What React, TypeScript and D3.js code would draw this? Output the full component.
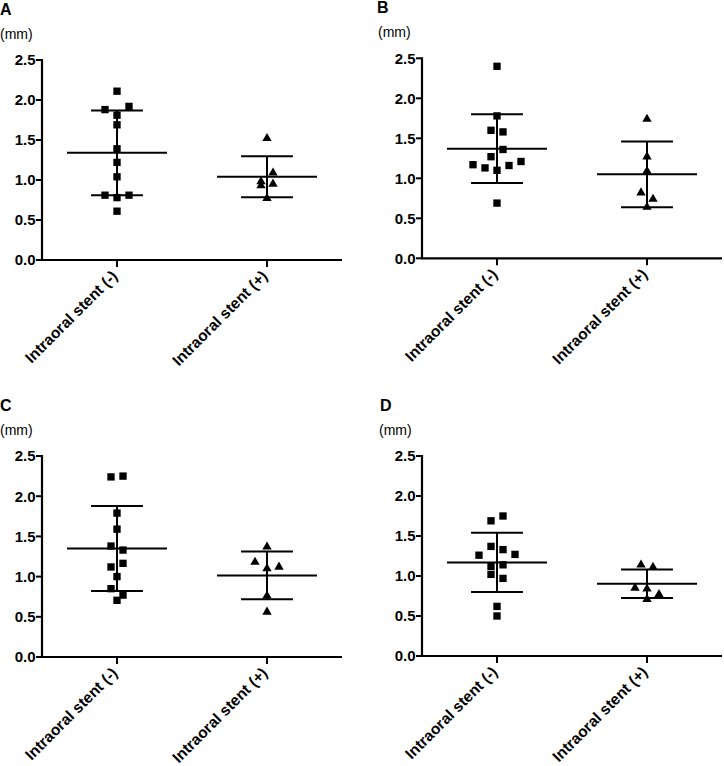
import React from 'react';
import * as d3 from 'd3';

// ---------- data ----------
const categories = ['Intraoral stent (-)', 'Intraoral stent (+)'];
const yTicks = [0, 0.5, 1.0, 1.5, 2.0, 2.5];
const panelIds = ['A', 'B', 'C', 'D'];
const unitLabel = '(mm)';

const panelA_neg = [2.11, 1.88, 1.81, 1.92, 1.69, 1.39, 1.22, 1.04, 0.81, 0.78, 0.81, 0.61];
const panelA_pos = [1.52, 0.98, 1.09, 0.93, 0.95, 0.77];
const panelB_neg = [2.40, 1.78, 1.60, 1.58, 1.27, 1.36, 1.17, 1.13, 1.10, 1.16, 1.21, 0.69];
const panelB_pos = [1.74, 1.27, 1.09, 0.82, 0.74, 0.64];
const panelC_neg = [2.24, 2.25, 1.79, 1.59, 1.38, 1.33, 1.12, 1.165, 1.00, 0.85, 0.705, 0.77];
const panelC_pos = [1.37, 1.18, 1.10, 1.12, 0.76, 0.56];
const panelD_neg = [1.69, 1.75, 1.26, 1.37, 1.33, 1.27, 1.12, 1.14, 1.02, 0.97, 0.62, 0.50];
const panelD_pos = [1.14, 1.11, 0.85, 0.84, 0.77, 0.71];

const panelData = [
  [panelA_neg, panelA_pos],
  [panelB_neg, panelB_pos],
  [panelC_neg, panelC_pos],
  [panelD_neg, panelD_pos],
];

// ---------- layout ----------
const W = 724, H = 766;
const layout = [
  { axisX: 42, yTop: 60, yBottom: 260, labelX: 0, unitX: 0 },
  { axisX: 422, yTop: 58.3, yBottom: 258.3, labelX: 377, unitX: 378 },
  { axisX: 42, yTop: 456, yBottom: 657, labelX: 0, unitX: 0 },
  { axisX: 422, yTop: 456, yBottom: 656, labelX: 380, unitX: 379 },
];
const AXIS_W = 300;
const FONT = '"Liberation Sans", Arial, Helvetica, sans-serif';

function swarm(values: number[], y: (v: number) => number, cx: number, step: number, thresh: number) {
  const idx = values.map((_, i) => i).sort((a, b) => values[b] - values[a]);
  const rows: number[][] = [];
  let cur: number[] = [];
  let startY = 0;
  for (const i of idx) {
    const py = y(values[i]);
    if (cur.length && Math.abs(py - startY) <= thresh) cur.push(i);
    else {
      if (cur.length) rows.push(cur);
      cur = [i];
      startY = py;
    }
  }
  if (cur.length) rows.push(cur);
  const xs: number[] = new Array(values.length);
  rows.forEach((r) => {
    r.sort((a, b) => a - b);
    const n = r.length;
    r.forEach((i, k) => {
      xs[i] = cx + (k - (n - 1) / 2) * step;
    });
  });
  return xs;
}

const squarePath = d3.symbol().type(d3.symbolSquare).size(54)() as string;
const trianglePath = d3.symbol().type(d3.symbolTriangle).size(38)() as string;

function Panel({ idx }: { idx: number }) {
  const L = layout[idx];
  const y = d3.scaleLinear().domain([0, 2.5]).range([L.yBottom, L.yTop]);
  const x = d3.scalePoint<string>().domain(categories).range([L.axisX, L.axisX + AXIS_W]).padding(0.5);
  const band = x.step();
  const groups = panelData[idx];

  return (
    <g>
      <text x={L.labelX} y={L.yTop - 45} fontFamily={FONT} fontWeight="bold" fontSize={16}>{panelIds[idx]}</text>
      <text x={L.unitX} y={L.yTop - 21.5} fontFamily={FONT} fontSize={14}>{unitLabel}</text>

      {/* y axis */}
      <line x1={L.axisX} x2={L.axisX} y1={y(2.5) - 1} y2={y(0) + 1} stroke="#000" strokeWidth={2.2} />
      {yTicks.map((t) => (
        <g key={t}>
          <line x1={L.axisX - 6} x2={L.axisX} y1={y(t)} y2={y(t)} stroke="#000" strokeWidth={2} />
          <text x={L.axisX - 6.5} y={y(t)} dy="0.36em" textAnchor="end" fontFamily={FONT} fontWeight="bold" fontSize={15}>
            {t.toFixed(1)}
          </text>
        </g>
      ))}

      {/* x axis */}
      <line x1={L.axisX} x2={L.axisX + AXIS_W} y1={y(0)} y2={y(0)} stroke="#000" strokeWidth={2.2} />
      {categories.map((c) => {
        const cx = x(c) as number;
        return (
          <g key={c}>
            <line x1={cx} x2={cx} y1={y(0)} y2={y(0) + 7} stroke="#000" strokeWidth={2} />
            <text
              transform={`translate(${cx + 1.5},${y(0) + 17}) rotate(-45)`}
              textAnchor="end"
              fontFamily={FONT}
              fontWeight="bold"
              fontSize={15.5}
            >
              {c}
            </text>
          </g>
        );
      })}

      {/* groups */}
      {categories.map((c, gi) => {
        const vals = groups[gi];
        const cx = x(c) as number;
        const m = d3.mean(vals) as number;
        const sd = d3.deviation(vals) as number;
        const xs = swarm(vals, y, cx, 12, 9.5);
        const path = gi === 0 ? squarePath : trianglePath;
        const meanHalf = band / 3;
        const capHalf = band * 0.173;
        return (
          <g key={c}>
            {vals.map((v, i) => (
              <path key={i} d={path} transform={`translate(${xs[i]},${y(v)})`} fill="#000" />
            ))}
            <line x1={cx} x2={cx} y1={y(m + sd)} y2={y(m - sd)} stroke="#000" strokeWidth={2} />
            <line x1={cx - meanHalf} x2={cx + meanHalf} y1={y(m)} y2={y(m)} stroke="#000" strokeWidth={2} />
            <line x1={cx - capHalf} x2={cx + capHalf} y1={y(m + sd)} y2={y(m + sd)} stroke="#000" strokeWidth={2} />
            <line x1={cx - capHalf} x2={cx + capHalf} y1={y(m - sd)} y2={y(m - sd)} stroke="#000" strokeWidth={2} />
          </g>
        );
      })}
    </g>
  );
}

export default function App() {
  return (
    <svg
      width={W}
      height={H}
      viewBox={`0 0 ${W} ${H}`}
      style={{ position: 'absolute', left: 0, top: 0, background: '#fff' }}
    >
      <rect x={0} y={0} width={W} height={H} fill="#fff" />
      {layout.map((_, i) => (
        <Panel key={i} idx={i} />
      ))}
    </svg>
  );
}
